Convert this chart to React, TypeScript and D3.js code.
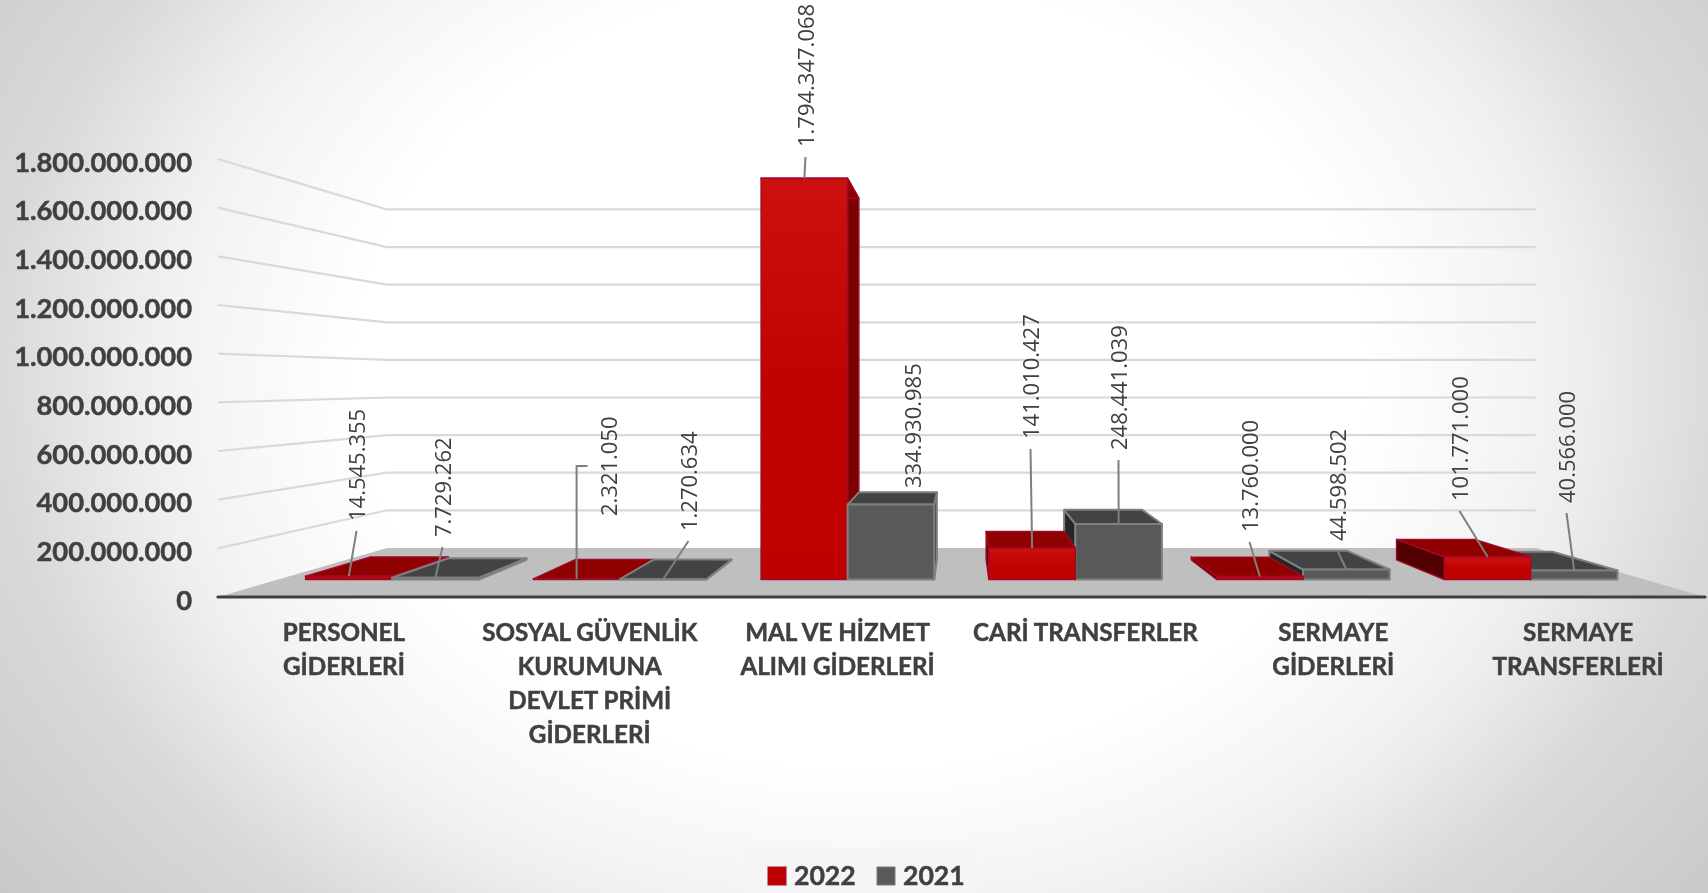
import React from "react";
import * as d3 from "d3";

const categories = ["PERSONEL GİDERLERİ","SOSYAL GÜVENLİK KURUMUNA DEVLET PRİMİ GİDERLERİ","MAL VE HİZMET ALIMI GİDERLERİ","CARİ TRANSFERLER","SERMAYE GİDERLERİ","SERMAYE TRANSFERLERİ"];
const categoryLines = [["PERSONEL","GİDERLERİ"],["SOSYAL GÜVENLİK","KURUMUNA","DEVLET PRİMİ","GİDERLERİ"],["MAL VE HİZMET","ALIMI GİDERLERİ"],["CARİ TRANSFERLER"],["SERMAYE","GİDERLERİ"],["SERMAYE","TRANSFERLERİ"]];
const values2022 = [14545355, 2321050, 1794347068, 141010427, 13760000, 101771000];
const values2021 = [7729262, 1270634, 334930985, 248441039, 44598502, 40566000];
const yTicks = [0,200000000,400000000,600000000,800000000,1000000000,1200000000,1400000000,1600000000,1800000000];
const seriesNames = ["2022","2021"];

// hand-placed label anchors: [centre x, bottom y] for 2022 then 2021 in each category
const labelSpots2022 = [[357,521],[609,516],[806,147],[1031,439],[1250,532],[1460,501]];
const labelSpots2021 = [[443,537],[689,531],[913,488],[1119,450],[1338,541],[1567,503]];

const W = 1708, H = 893;
const VX = 961.5, VY = 381;           // vanishing point
const S_WALL = 0.7727, S_FRONT = 0.919, S_BACK = 0.828;
const FONT = "Lato, Carlito, sans-serif";
const LABEL_FONT = "'Open Sans', 'Liberation Sans', Arial, sans-serif";

const y = d3.scaleLinear().domain([0, 1800000000]).range([597, 159]);
const x0 = d3.scaleBand<string>().domain(categories).range([218, 1705]).paddingInner(0.24).paddingOuter(0.12);
const x1 = d3.scaleBand<string>().domain(seriesNames).range([0, x0.bandwidth()]);

const proj = (X: number, Y: number, s: number): [number, number] => [VX + (X - VX) * s, VY + (Y - VY) * s];
const poly = d3.line<[number, number]>().curve(d3.curveLinearClosed);
const fmt = (v: number) => d3.format(",")(v).replace(/,/g, ".");

const palette: Record<string, any> = {
  "2022": { front: "url(#redFront)", top: "#8F0000", right: "#7B0000", left: "#500000", stroke: "#A00A2A", sw: 1.4 },
  "2021": { front: "#595959", top: "#434343", right: "#3D3D3D", left: "#262626", stroke: "#7F7F7F", sw: 2 },
};

function Bar({ cat, name, v }: { cat: string; name: string; v: number }) {
  const L = x0(cat)! + x1(name)!;
  const R = L + x1.bandwidth();
  const T = y(v), B = y(0);
  const c = palette[name];
  const face = (pts: [number, number][], fill: string) => (
    <path d={poly(pts)!} fill={fill} stroke={c.stroke} strokeWidth={c.sw} strokeLinejoin="round" />
  );
  return (
    <g>
      {L > VX && face([proj(L,T,S_FRONT),proj(L,T,S_BACK),proj(L,B,S_BACK),proj(L,B,S_FRONT)], c.left)}
      {R < VX && face([proj(R,T,S_FRONT),proj(R,T,S_BACK),proj(R,B,S_BACK),proj(R,B,S_FRONT)], c.right)}
      {face([proj(L,T,S_FRONT),proj(R,T,S_FRONT),proj(R,T,S_BACK),proj(L,T,S_BACK)], c.top)}
      {face([proj(L,T,S_FRONT),proj(R,T,S_FRONT),proj(R,B,S_FRONT),proj(L,B,S_FRONT)], c.front)}
    </g>
  );
}

function DataLabel({ cat, name, v, spot, leader, elbow }: { cat: string; name: string; v: number; spot: number[]; leader: boolean; elbow: boolean }) {
  const X = x0(cat)! + x1(name)! + x1.bandwidth() / 2;
  const [ax, ay] = proj(X, y(v), S_FRONT);
  const [cx, by] = spot;
  const pts: [number, number][] = elbow
    ? [[ax + 11, by - 50], [ax, by - 50], [ax, ay]]
    : [[cx - 0.5, by + 10], [ax, ay]];
  return (
    <g>
      {leader && <path d={d3.line()(pts)!} fill="none" stroke="#7F7F7F" strokeWidth={2} />}
      <text transform={`translate(${cx},${by}) rotate(-90)`} dy="0.36em" fontFamily={LABEL_FONT} fontSize={22} fill="#404040">{fmt(v)}</text>
    </g>
  );
}

export default function App() {
  const floor: [number, number][] = [[218, y(0)], proj(218, y(0), S_WALL), proj(1705, y(0), S_WALL), [1705, y(0)]];
  const boldText = { stroke: "#404040", strokeWidth: 0.5 };
  return (
    <svg width={W} height={H} viewBox={`0 0 ${W} ${H}`} style={{ position: "fixed", left: 0, top: 0, display: "block" }}>
      <defs>
        <radialGradient id="bg" gradientUnits="userSpaceOnUse" cx={0} cy={0} r={1} gradientTransform="translate(860,373) scale(1120,878)">
          <stop offset="0.45" stopColor="#FFFFFF" />
          <stop offset="0.5" stopColor="#FBFBFB" />
          <stop offset="0.59" stopColor="#F4F4F4" />
          <stop offset="0.645" stopColor="#EEEEEE" />
          <stop offset="0.77" stopColor="#D9D9D9" />
          <stop offset="0.88" stopColor="#D0D0D0" />
          <stop offset="1" stopColor="#C6C6C6" />
        </radialGradient>
        <linearGradient id="redFront" x1="0" y1="0" x2="0" y2="1">
          <stop offset="0" stopColor="#CC1010" />
          <stop offset="0.5" stopColor="#C00202" />
          <stop offset="1" stopColor="#BE0000" />
        </linearGradient>
      </defs>
      <rect width={W} height={H} fill="url(#bg)" />

      {yTicks.filter(t => t > 0).map(t => {
        const back = proj(218, y(t), S_WALL);
        const backR = proj(1705, y(t), S_WALL);
        return <path key={t} d={d3.line()([[218, y(t)], back, backR])!} fill="none" stroke="#D9D9D9" strokeWidth={2.2} />;
      })}

      <path d={poly(floor)!} fill="#BFBFBF" />

      {categories.map((c, i) => {
        const groupRight = x0(c)! + x0.bandwidth();
        const order = groupRight < VX ? [0, 1] : [1, 0];
        return (
          <g key={c}>
            {order.map(k => (
              <Bar key={k} cat={c} name={seriesNames[k]} v={k === 0 ? values2022[i] : values2021[i]} />
            ))}
          </g>
        );
      })}

      <line x1={218} x2={1705} y1={y(0)} y2={y(0)} stroke="#404040" strokeWidth={3.2} strokeLinecap="round" />

      {categories.map((c, i) => (
        <g key={c}>
          <DataLabel cat={c} name="2022" v={values2022[i]} spot={labelSpots2022[i]} leader={true} elbow={i === 1} />
          <DataLabel cat={c} name="2021" v={values2021[i]} spot={labelSpots2021[i]} leader={i !== 2} elbow={false} />
        </g>
      ))}

      {yTicks.map(t => (
        <text key={t} x={192} y={y(t) + 3} dy="0.35em" textAnchor="end" fontFamily={FONT} fontWeight={700} fontSize={27.3} fill="#404040" {...boldText}>{fmt(t)}</text>
      ))}

      {categories.map((c, i) => (
        <text key={c} textAnchor="middle" fontFamily={FONT} fontWeight={700} fontSize={24.2} fill="#404040" {...boldText}>
          {categoryLines[i].map((ln, j) => (
            <tspan key={j} x={x0(c)! + x0.bandwidth() / 2 + (i === 5 ? -3 : i === 0 ? 2 : 0)} y={633 + j * 33.8} dy="0.35em">{ln}</tspan>
          ))}
        </text>
      ))}

      <rect x={746} y={849} width={229} height={44} fill="#F5F5F5" />
      {seriesNames.map((n, i) => {
        const sx = [768, 877][i];
        return (
          <g key={n}>
            <rect x={sx} y={867} width={18} height={18} fill={n === "2022" ? "#C00000" : "#595959"} stroke={n === "2022" ? "#A00A2A" : "#7F7F7F"} strokeWidth={1} />
            <text x={sx + 26} y={876} dy="0.35em" fontFamily={FONT} fontWeight={700} fontSize={26.6} fill="#404040" {...boldText}>{n}</text>
          </g>
        );
      })}
    </svg>
  );
}
